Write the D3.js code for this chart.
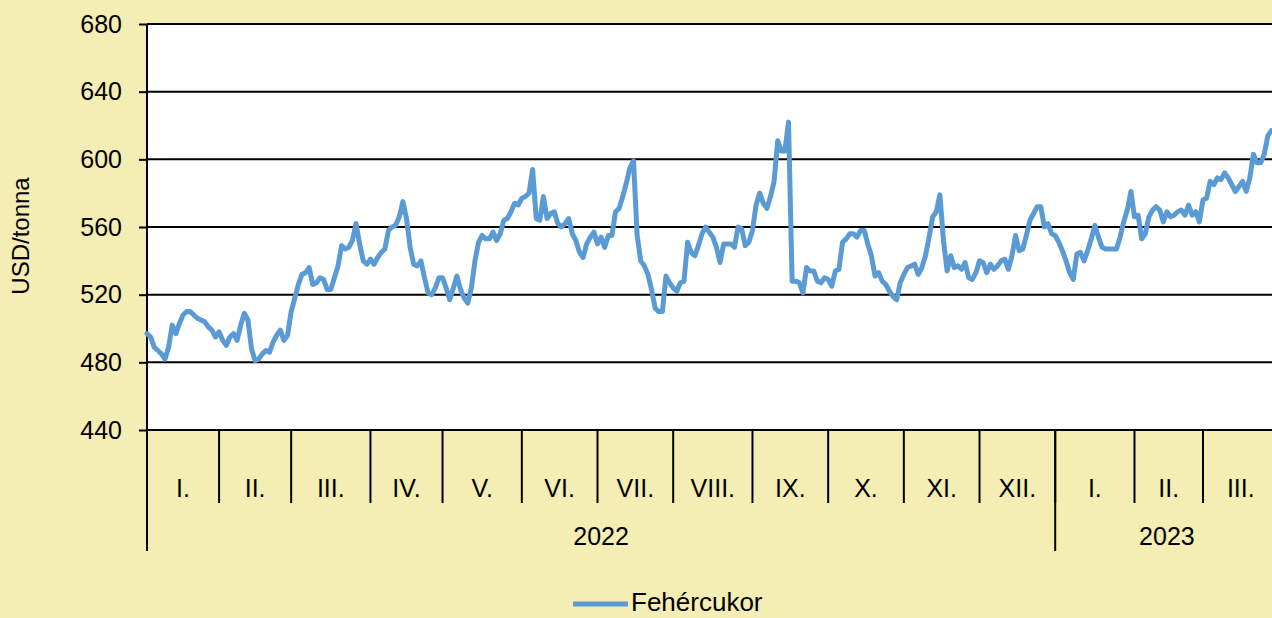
<!DOCTYPE html>
<html><head><meta charset="utf-8">
<script src="https://cdn.jsdelivr.net/npm/d3@7"></script>
<style>
html,body{margin:0;padding:0;background:#F4EDB4;overflow:hidden}
svg{display:block;font-family:"Liberation Sans",Arial,sans-serif}
</style></head><body>
<svg id="chart" width="1272" height="618"></svg>
<script>
// ---- data ----
const months = ["I.","II.","III.","IV.","V.","VI.","VII.","VIII.","IX.","X.","XI.","XII.","I.","II.","III."];
const monthDays = [20,20,22,20,22,21,21,22,21,21,21,21,22,19,21];
const years = ["2022","2023"];
const yearMonths = [12,3];
const yTicks = [440,480,520,560,600,640,680];
const yLabel = "USD/tonna";
const seriesName = "Fehércukor";
const values = [
497,495,489,487,485,482,489,502,497,503,508,510,510,508,506,505,504,501,499,495,
498,493,490,495,497,493,502,509,505,488,481,482,485,487,486,492,496,499,493,496,
510,518,526,532,533,536,526,527,530,529,523,523,530,537,549,547,548,552,562,550,
540,538,541,538,542,545,547,558,560,561,566,575,565,548,538,537,540,530,521,520,
524,530,530,524,517,524,531,523,518,515,524,540,551,555,553,553,557,552,556,564,
565,569,574,573,577,578,580,594,565,564,578,565,568,569,562,560,562,565,556,552,
545,542,550,554,557,550,554,548,555,555,569,571,578,586,595,599,555,540,537,532,
523,512,510,510,531,527,524,522,527,528,551,545,543,549,556,560,557,554,548,539,
550,550,550,548,560,559,549,551,558,573,580,574,571,578,587,611,605,605,622,528,
528,527,521,536,534,534,528,527,530,529,525,534,535,551,553,556,556,554,558,558,
550,543,531,533,528,526,522,519,517,527,532,536,537,538,532,536,543,554,566,569,
579,552,534,543,536,537,535,539,530,529,533,540,539,533,538,535,537,540,541,535,
543,555,546,547,555,564,568,572,572,560,562,556,555,551,546,540,533,529,544,545,
540,546,553,561,554,548,547,547,547,547,554,563,570,581,566,567,553,556,566,570,
572,570,563,569,566,567,569,570,567,573,567,569,563,576,577,587,585,589,588,592,
589,585,581,584,587,581,589,603,598,598,603,614,617
];

// ---- layout ----
const W = 1272, H = 618;
const plotLeft = 147, plotTop = 24, plotBottom = 430;
const dayW = 3.604;
const totalDays = d3.sum(monthDays);
const x = d3.scaleLinear().domain([0, totalDays]).range([plotLeft, plotLeft + totalDays * dayW]);
const y = d3.scaleLinear().domain([440, 680]).range([plotBottom, plotTop]);
const svg = d3.select("#chart");

svg.append("rect").attr("x",0).attr("y",0).attr("width",W).attr("height",H).attr("fill","#F4EDB4");
svg.append("rect").attr("x",plotLeft).attr("y",plotTop).attr("width",W-plotLeft).attr("height",plotBottom-plotTop).attr("fill","#ffffff");

// gridlines
svg.append("g").selectAll("line").data(yTicks).join("line")
  .attr("x1", plotLeft).attr("x2", W)
  .attr("y1", d => y(d)).attr("y2", d => y(d))
  .attr("stroke", "#000").attr("stroke-width", 2);

// y axis
const yAxis = svg.append("g").attr("transform", `translate(${plotLeft},0)`)
  .call(d3.axisLeft(y).tickValues(yTicks).tickSize(8).tickPadding(17).tickFormat(d3.format("d")));
yAxis.select(".domain").remove();
yAxis.selectAll(".tick line").attr("stroke","#000").attr("stroke-width",2);
yAxis.selectAll(".tick text").attr("fill","#000").style("font-size","25px").style("font-family","'Liberation Sans',Arial,sans-serif");
svg.append("line").attr("x1",plotLeft).attr("x2",plotLeft).attr("y1",plotTop).attr("y2",551)
  .attr("stroke","#000").attr("stroke-width",2);

svg.append("text").attr("transform",`translate(23,236) rotate(-90)`)
  .attr("text-anchor","middle").attr("dominant-baseline","middle")
  .style("font-size","24px").attr("fill","#000").text(yLabel);

// month separators and labels
const cum = [0]; monthDays.forEach(d => cum.push(cum[cum.length-1] + d));
svg.append("g").selectAll("line").data(cum.slice(1)).join("line")
  .attr("x1", d => x(d)).attr("x2", d => x(d)).attr("y1", plotBottom).attr("y2", 503)
  .attr("stroke","#000").attr("stroke-width",2);
svg.append("g").selectAll("text").data(months).join("text")
  .attr("x", (d,i) => (x(cum[i]) + x(cum[i+1]))/2).attr("y", 497)
  .attr("text-anchor","middle").style("font-size","25px").attr("fill","#000").text(d => d);

// year separators and labels
const ycum = [0]; yearMonths.forEach(m => ycum.push(ycum[ycum.length-1] + m));
svg.append("g").selectAll("line").data(ycum.slice(0, -1)).join("line")
  .attr("x1", d => x(cum[d])).attr("x2", d => x(cum[d])).attr("y1", plotBottom).attr("y2", 551)
  .attr("stroke","#000").attr("stroke-width",2);
svg.append("g").selectAll("text").data(years).join("text")
  .attr("x", (d,i) => (x(cum[ycum[i]]) + x(cum[ycum[i+1]]))/2).attr("y", 545)
  .attr("text-anchor","middle").style("font-size","25px").attr("fill","#000").text(d => d);

// x axis line
svg.append("line").attr("x1",plotLeft).attr("x2",W).attr("y1",plotBottom).attr("y2",plotBottom)
  .attr("stroke","#000").attr("stroke-width",2);

// series
const line = d3.line().x((d,i) => x(i)).y(d => y(d));
svg.append("path").datum(values).attr("d", line)
  .attr("fill","none").attr("stroke","#5B9BD5").attr("stroke-width",5)
  .attr("stroke-linejoin","round").attr("stroke-linecap","round");

// legend
const lg = svg.append("g");
lg.append("line").attr("x1",573).attr("x2",628).attr("y1",604).attr("y2",604)
  .attr("stroke","#5B9BD5").attr("stroke-width",5);
lg.append("text").attr("x",631).attr("y",604).attr("dominant-baseline","middle")
  .style("font-size","26px").attr("fill","#000").text(seriesName);
</script>
</body></html>
